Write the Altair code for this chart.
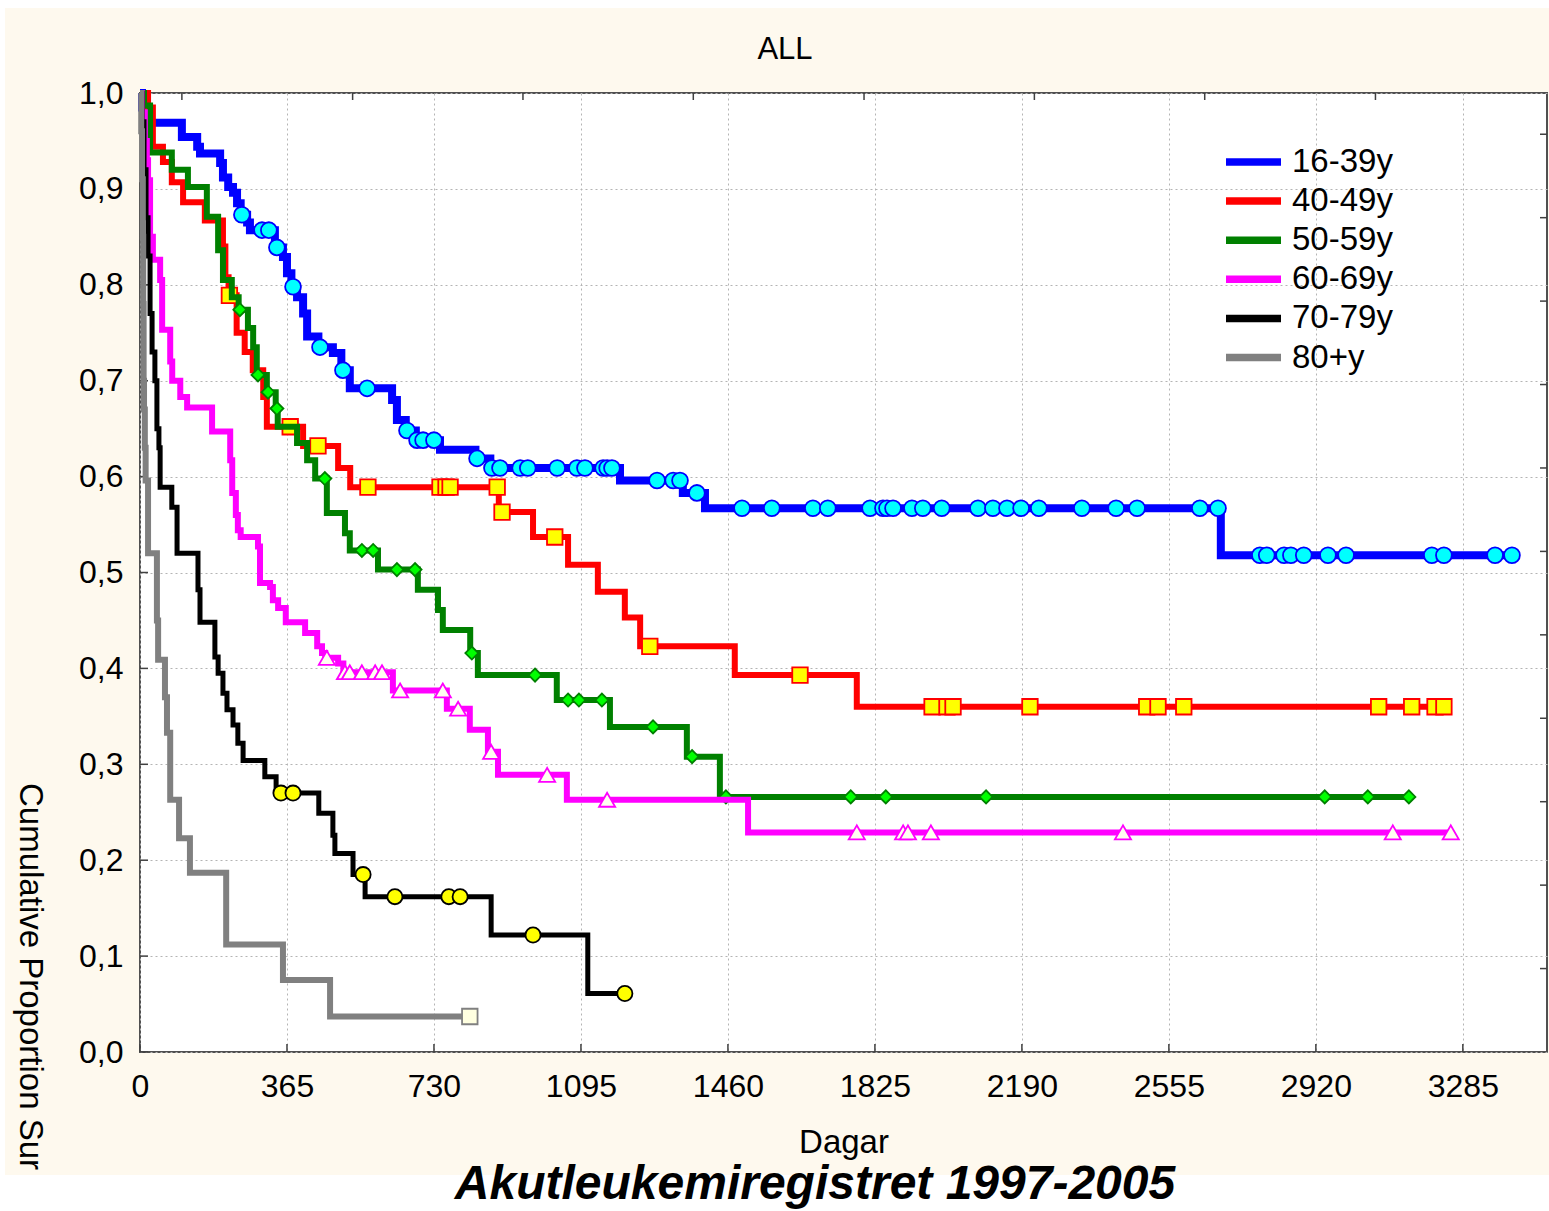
import altair as alt
import numpy as np
import pandas as pd

# ---------------- data ----------------
groups = ["16-39y", "40-49y", "50-59y", "60-69y", "70-79y", "80+y"]

blue_t = [0, 5, 12, 104, 142, 149, 199, 206, 219, 231, 241, 250, 266, 273, 335, 355, 365, 376, 390, 405,
          415, 443, 479, 500, 521, 626, 638, 660, 685, 745, 833, 870, 1192, 1348, 1403, 2684]
blue_s = [1.0, 0.985, 0.969, 0.954, 0.944, 0.937, 0.927, 0.912, 0.902, 0.896, 0.885, 0.873, 0.865, 0.857, 0.839,
          0.829, 0.812, 0.798, 0.787, 0.770, 0.746, 0.735, 0.729, 0.711, 0.692, 0.680, 0.659, 0.648, 0.638, 0.628,
          0.619, 0.609, 0.596, 0.583, 0.567, 0.518]
blue_c = [253, 303, 320, 340, 380, 447, 504, 564, 663, 688, 703, 730, 837, 874, 894, 944, 963, 1036, 1085, 1105,
          1150, 1160, 1172, 1284, 1324, 1341, 1383, 1495, 1569, 1671, 1708, 1813, 1845, 1855, 1870, 1917, 1944,
          1991, 2081, 2118, 2153, 2188, 2232, 2339, 2424, 2476, 2632, 2677, 2781, 2798, 2841, 2858, 2890, 2950,
          2995, 3208, 3238, 3365, 3407]

red_t = [0, 20, 32, 57, 79, 107, 161, 206, 212, 220, 240, 260, 280, 306, 315, 405, 492, 522, 891, 976,
         1063, 1137, 1204, 1242, 1477, 1780]
red_s = [1.0, 0.985, 0.944, 0.928, 0.907, 0.886, 0.867, 0.840, 0.808, 0.789, 0.750, 0.730, 0.711, 0.683, 0.652,
         0.632, 0.609, 0.589, 0.563, 0.537, 0.508, 0.480, 0.453, 0.423, 0.393, 0.360]
red_c = [222, 373, 442, 566, 745, 760, 770, 887, 899, 1030, 1266, 1639, 1967, 2004, 2019, 2210, 2500, 2528,
         2592, 3076, 3158, 3216, 3238]

green_t = [0, 10, 25, 79, 119, 166, 194, 206, 228, 245, 268, 281, 290, 315, 337, 342, 390, 415, 435, 464,
           509, 521, 591, 690, 740, 752, 820, 839, 1035, 1167, 1358, 1440]
green_s = [1.0, 0.987, 0.938, 0.920, 0.902, 0.871, 0.836, 0.805, 0.787, 0.774, 0.755, 0.735, 0.706, 0.688, 0.671,
           0.652, 0.635, 0.617, 0.598, 0.562, 0.541, 0.523, 0.503, 0.482, 0.461, 0.440, 0.416, 0.393, 0.367,
           0.339, 0.308, 0.266]
green_c = [248, 293, 318, 340, 459, 551, 579, 638, 683, 824, 981, 1063, 1090, 1147, 1274, 1371, 1455, 1765,
           1852, 2101, 2942, 3049, 3151]

mag_t = [0, 5, 12, 17, 20, 25, 32, 50, 55, 75, 80, 100, 117, 179, 224, 229, 238, 243, 250, 293,
         298, 323, 330, 343, 362, 410, 440, 452, 460, 492, 505, 628, 762, 819, 864, 889, 1060, 1510]
mag_s = [1.0, 0.98, 0.95, 0.93, 0.909, 0.85, 0.826, 0.805, 0.753, 0.72, 0.70, 0.683, 0.672, 0.647, 0.617, 0.583,
         0.560, 0.544, 0.537, 0.527, 0.489, 0.485, 0.471, 0.463, 0.448, 0.437, 0.423, 0.416, 0.411, 0.405,
         0.396, 0.377, 0.358, 0.336, 0.313, 0.289, 0.263, 0.229]
mag_c = [464, 509, 521, 551, 584, 601, 646, 752, 790, 872, 1011, 1160, 1780, 1895, 1907, 1964, 2441, 3111, 3255]

blk_t = [0, 5, 10, 15, 20, 25, 30, 37, 42, 47, 50, 79, 92, 144, 149, 186, 194, 206, 216, 231,
         243, 256, 310, 338, 444, 479, 484, 529, 559, 872, 1112]
blk_s = [1.0, 0.97, 0.92, 0.87, 0.83, 0.77, 0.73, 0.70, 0.65, 0.63, 0.589, 0.568, 0.520, 0.482, 0.448, 0.412,
         0.395, 0.374, 0.357, 0.341, 0.322, 0.304, 0.287, 0.270, 0.249, 0.226, 0.207, 0.185, 0.162, 0.122, 0.061]
blk_c = [350, 380, 554, 633, 767, 795, 976, 1204]

gry_t = [0, 3, 5, 7, 8, 9, 10, 12, 14, 20, 42, 45, 62, 67, 75, 97, 124, 214, 355, 472]
gry_s = [1.0, 0.96, 0.91, 0.85, 0.78, 0.70, 0.67, 0.63, 0.596, 0.52, 0.45, 0.409, 0.37, 0.333, 0.263, 0.223,
         0.187, 0.112, 0.075, 0.037]
gry_c = [819]

x_ticks = [0, 365, 730, 1095, 1460, 1825, 2190, 2555, 2920, 3285]
y_ticks = [0.0, 0.1, 0.2, 0.3, 0.4, 0.5, 0.6, 0.7, 0.8, 0.9, 1.0]
top_ticks = [104, 528, 951, 1374, 1798, 2221, 2644, 3068]
right_ticks = [0.087, 0.174, 0.261, 0.348, 0.435, 0.522, 0.609, 0.696, 0.783, 0.870, 0.957]

series = [(blue_t, blue_s, blue_c), (red_t, red_s, red_c), (green_t, green_s, green_c),
          (mag_t, mag_s, mag_c), (blk_t, blk_s, blk_c), (gry_t, gry_s, gry_c)]

# ---------------- styles ----------------
line_colors = ["#0000FF", "#FF0000", "#008000", "#FF00FF", "#000000", "#808080"]
line_widths = [8, 6, 6, 6, 5, 6]
marker_shapes = ["circle", "square", "diamond", "triangle-up", "circle", "square"]
marker_fills = ["#00FFFF", "#FFFF00", "#00FF00", "#FFFFF0", "#FFFF00", "#FFFFE0"]
marker_sizes = [250, 240, 170, 260, 230, 240]

FONT = "Liberation Sans"
W, H = 1407, 959

x_scale = alt.Scale(domain=[0, 3494], nice=False, zero=False)
y_scale = alt.Scale(domain=[0, 1], nice=False, zero=False)

x_axis = alt.Axis(values=x_ticks, format="d", grid=True, gridDash=[2, 3], gridColor="#b4b4b4", gridWidth=1,
                  domain=False, ticks=False, tickSize=0, labelFontSize=32, labelFont=FONT,
                  labelColor="black", labelPadding=19, labelFlush=False, labelOverlap=False,
                  title="Dagar", titleFont=FONT, titleFontSize=33, titleFontWeight="normal",
                  titleColor="black", titleY=90, titleBaseline="middle")
y_axis = alt.Axis(values=y_ticks, grid=True, gridDash=[2, 3], gridColor="#b4b4b4", gridWidth=1,
                  domain=False, ticks=False, tickSize=0, labelFontSize=32, labelFont=FONT,
                  labelColor="black", labelPadding=17, labelFlush=False, labelOverlap=False,
                  labelExpr="replace(format(datum.value, '.1f'), '.', ',')", title=None)

X = alt.X("day:Q", scale=x_scale, axis=x_axis)
Y = alt.Y("surv:Q", scale=y_scale, axis=y_axis)

color_scale = alt.Scale(domain=groups, range=line_colors)
legend = alt.Legend(title=None, orient="none", legendX=1082, legendY=54, symbolType="stroke",
                    symbolSize=3025, symbolStrokeWidth=7.5, labelFontSize=33, labelFont=FONT,
                    labelColor="black", labelOffset=7, clipHeight=30, rowPadding=6.1, padding=0)

one = pd.DataFrame({"a": [0]})
layers = []

# y-axis title
layers.append(alt.Chart(one).mark_text(text="Cumulative Proportion Sur", angle=90, align="left",
                                       baseline="middle", font=FONT, fontSize=33, color="black")
              .encode(x=alt.value(-110), y=alt.value(690)))
# white page strips outside the cream panel
for (x1, x2, y1, y2) in [(-140, 1409, 1082, 1118), (-140, 1409, -93, -85), (-140, -135, -93, 1118)]:
    layers.append(alt.Chart(one).mark_rect(color="white")
                  .encode(x=alt.value(x1), x2=alt.value(x2), y=alt.value(y1), y2=alt.value(y2)))

# inner ticks
tick_col = "#404040"
layers.append(alt.Chart(pd.DataFrame({"surv": y_ticks})).mark_rule(color=tick_col, strokeWidth=1.5)
              .encode(y=Y, x=alt.value(0), x2=alt.value(8)))
layers.append(alt.Chart(pd.DataFrame({"day": x_ticks})).mark_rule(color=tick_col, strokeWidth=1.5)
              .encode(x=X, y=alt.value(H), y2=alt.value(H - 8)))
layers.append(alt.Chart(pd.DataFrame({"day": top_ticks})).mark_rule(color=tick_col, strokeWidth=1.5)
              .encode(x=X, y=alt.value(0), y2=alt.value(7)))
layers.append(alt.Chart(pd.DataFrame({"surv": right_ticks})).mark_rule(color=tick_col, strokeWidth=1.5)
              .encode(y=Y, x=alt.value(W), x2=alt.value(W - 7)))

# survival curves and censor markers
for i, (t, s, c) in enumerate(series):
    end = max(max(c), t[-1])
    line_df = pd.DataFrame({"day": list(t) + [end], "surv": list(s) + [s[-1]], "group": groups[i]})
    idx = np.searchsorted(np.array(t), np.array(c), side="right") - 1
    cens_df = pd.DataFrame({"day": c, "surv": [s[k] for k in idx]})
    layers.append(alt.Chart(line_df).mark_line(interpolate="step-after", strokeWidth=line_widths[i])
                  .encode(x=X, y=Y, color=alt.Color("group:N", scale=color_scale, legend=legend)))
    layers.append(alt.Chart(cens_df).mark_point(shape=marker_shapes[i], size=marker_sizes[i],
                                                 fill=marker_fills[i], stroke=line_colors[i],
                                                 strokeWidth=1.8, fillOpacity=1, opacity=1)
                  .encode(x=X, y=Y))

# titles
layers.append(alt.Chart(one).mark_text(text="ALL", font=FONT, fontSize=31, color="black",
                                       align="center", baseline="middle")
              .encode(x=alt.value(645), y=alt.value(-43)))
layers.append(alt.Chart(one).mark_text(text="Akutleukemiregistret 1997-2005", font=FONT, fontSize=48,
                                       fontWeight="bold", fontStyle="italic", color="black",
                                       align="center", baseline="middle")
              .encode(x=alt.value(675), y=alt.value(1092)))

chart = (alt.layer(*layers)
         .properties(width=W, height=H, autosize=alt.AutoSizeParams(type="none"),
                     padding={"left": 140, "top": 93, "right": 2, "bottom": 159},
                     background="#FEF9EE")
         .configure_view(fill="white", stroke="#505050", strokeWidth=2))

chart.save("out.html", embed_options={"renderer": "svg", "actions": False})
